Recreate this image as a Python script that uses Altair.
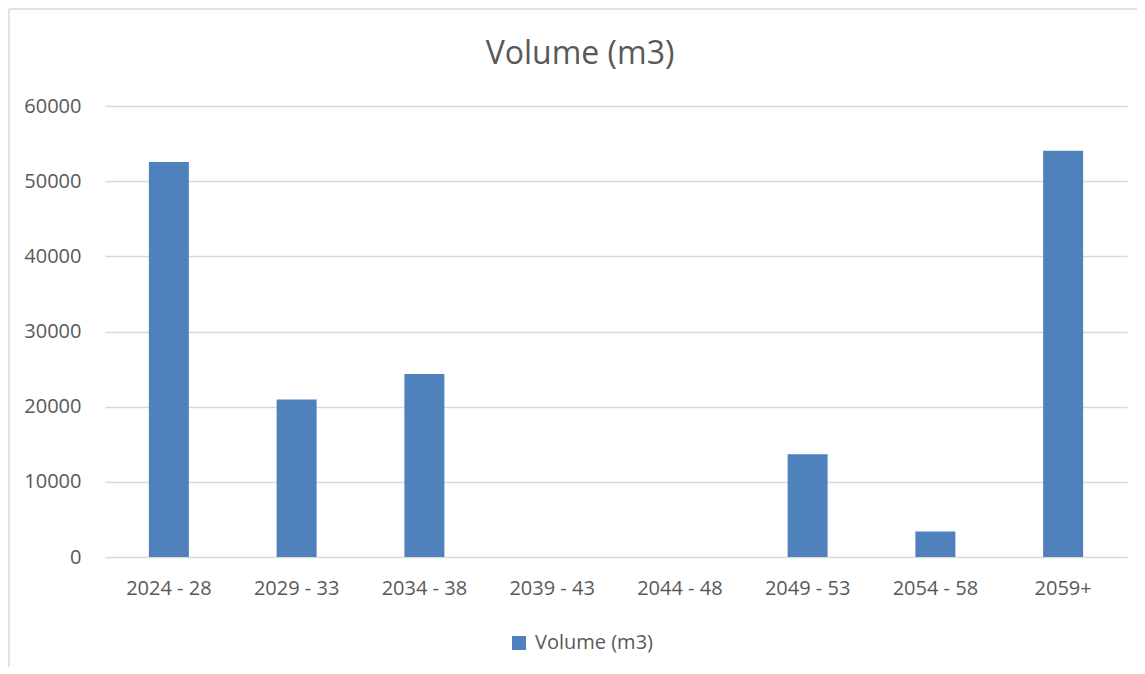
import altair as alt
import pandas as pd

categories = ["2024 - 28", "2029 - 33", "2034 - 38", "2039 - 43",
              "2044 - 48", "2049 - 53", "2054 - 58", "2059+"]
volumes = [52550, 20960, 24330, 0, 0, 13670, 3380, 54060]
series_name = "Volume (m3)"
y_ticks = [0, 10000, 20000, 30000, 40000, 50000, 60000]

df = pd.DataFrame({"period": categories, "volume": volumes,
                   "series": [series_name] * len(categories)})
title_df = pd.DataFrame({"title": [series_name]})

FONT = "Open Sans"
TXT = "#595959"
GRID = "#D9D9D9"
W, H = 1022, 451

bars = alt.Chart(df).mark_bar(width=alt.RelativeBandSize(0.313), color="#4F81BD").encode(
    x=alt.X("period:N", sort=categories, title=None,
            scale=alt.Scale(paddingInner=0, paddingOuter=0),
            axis=alt.Axis(labelAngle=0, labelFont=FONT, labelFontSize=20,
                          labelColor=TXT, labelPadding=21, ticks=False,
                          domain=False, grid=False)),
    y=alt.Y("volume:Q", title=None,
            scale=alt.Scale(domain=[0, 60000], nice=False),
            axis=alt.Axis(values=y_ticks, format="d", labelFont=FONT,
                          labelFontSize=20, labelColor=TXT, labelPadding=24,
                          ticks=False, domain=False, grid=True,
                          gridColor=GRID, gridWidth=1.5)),
    color=alt.Color("series:N", title=None,
                    scale=alt.Scale(range=["#4F81BD"]),
                    legend=alt.Legend(orient="none", legendX=404, legendY=527,
                                      symbolType="square", symbolSize=196,
                                      symbolStrokeWidth=0, labelFont=FONT,
                                      labelFontSize=20, labelColor=TXT,
                                      labelOffset=6, padding=0)),
)

title_mark = alt.Chart(title_df).mark_text(
    font=FONT, fontSize=32, color=TXT, align="center", baseline="alphabetic"
).encode(text="title:N", x=alt.value(W / 2 - 36), y=alt.value(-42))

border_left = alt.Chart(title_df).mark_rule(color=GRID, strokeWidth=1.5).encode(
    x=alt.value(-96), y=alt.value(-97), y2=alt.value(H + 120))
border_top = alt.Chart(title_df).mark_rule(color=GRID, strokeWidth=1.5).encode(
    x=alt.value(-96), x2=alt.value(W + 20), y=alt.value(-97))

chart = alt.layer(border_left, border_top, bars, title_mark).properties(
    width=W, height=H,
    autosize=alt.AutoSizeParams(type="none"),
    padding={"left": 97, "top": 98, "right": 10, "bottom": 110},
).configure(background="white").configure_view(strokeWidth=0, stroke="transparent")

chart.save("out.html", embed_options={"renderer": "svg", "actions": False})
